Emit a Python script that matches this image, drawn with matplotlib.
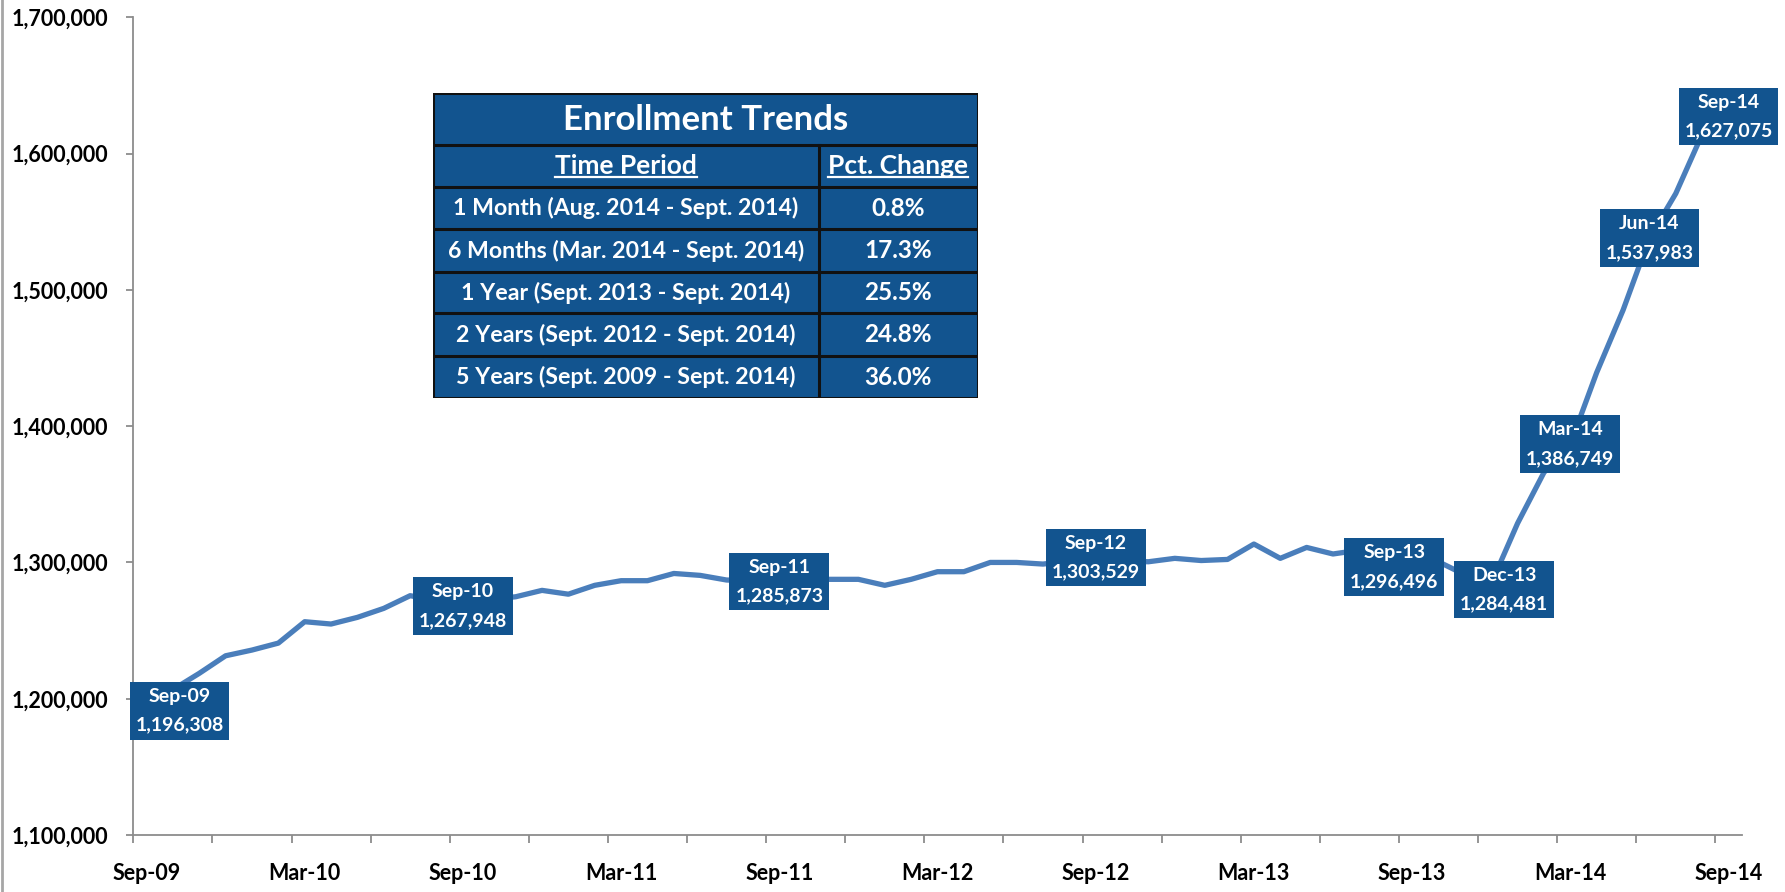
import numpy as np
import pandas as pd
import matplotlib
matplotlib.use('Agg')
import matplotlib.pyplot as plt
from matplotlib.lines import Line2D
from matplotlib.patches import Rectangle

plt.rcParams['font.family'] = ['Lato', 'DejaVu Sans']
plt.rcParams['font.weight'] = 'bold'

# monthly enrollment, Sep-09 .. Sep-14
months = list(pd.date_range('2009-09-01', '2014-09-01', freq='MS').strftime('%b-%y'))
enrollment = [
    1196308, 1206700, 1218600, 1231500, 1235700, 1240800, 1256500, 1254800,
    1259700, 1266300, 1275600, 1272000, 1267948, 1273000, 1274800, 1279500,
    1276700, 1283200, 1286600, 1286600, 1291900, 1290500, 1287100, 1286500,
    1285873, 1287600, 1287600, 1287600, 1283200, 1287600, 1293200, 1293200,
    1300000, 1300000, 1298800, 1301000, 1303529, 1301000, 1300500, 1303000,
    1301400, 1302200, 1313500, 1303000, 1311000, 1306200, 1309000, 1303000,
    1296496, 1300500, 1291000, 1284481, 1328700, 1366000, 1386749, 1439300,
    1485100, 1537983, 1570700, 1614163, 1627075,
]
labeled = ['Sep-09', 'Sep-10', 'Sep-11', 'Sep-12', 'Sep-13', 'Dec-13',
           'Mar-14', 'Jun-14', 'Sep-14']
# box nudges in pixels (only where Excel moved the label)
nudge = {'Sep-09': (33, -7), 'Sep-13': (-18, 0), 'Dec-13': (13, -6)}

periods = ['1 Month (Aug. 2014 - Sept. 2014)',
           '6 Months (Mar. 2014 - Sept. 2014)',
           '1 Year (Sept. 2013 - Sept. 2014)',
           '2 Years (Sept. 2012 - Sept. 2014)',
           '5 Years (Sept. 2009 - Sept. 2014)']
pct_change = ['0.8%', '17.3%', '25.5%', '24.8%', '36.0%']

navy = '#12548f'
line_blue = '#4a7ebb'
grey = '#8c8c8c'

W, H = 1785, 892
fig = plt.figure(figsize=(W / 100, H / 100), dpi=100)
ax = fig.add_axes([133.3 / W, 1 - 835 / H, (1741.7 - 133.3) / W, (835 - 17.3) / H])

x = np.arange(len(months))
ax.plot(x, enrollment, color=line_blue, lw=3.8, solid_joinstyle='round', zorder=2)

ax.set_xlim(-0.5, len(months) - 0.5)
ax.set_ylim(1100000, 1700000)
ax.set_yticks(np.arange(1100000, 1700001, 100000))
ax.set_yticklabels([f'{v:,}' for v in range(1100000, 1700001, 100000)])
ax.set_xticks(np.arange(-0.5, len(months), 3))
ax.set_xticklabels([])
ax.set_xticks(x[::6], minor=True)
ax.set_xticklabels(months[::6], minor=True)

for s in ['top', 'right']:
    ax.spines[s].set_visible(False)
for s in ['left', 'bottom']:
    ax.spines[s].set_color(grey)
    ax.spines[s].set_linewidth(1.3)
ax.tick_params(axis='y', length=5, width=1.3, color=grey, labelsize=15.5, pad=13)
ax.tick_params(axis='x', which='major', length=6, width=1.3, color=grey)
ax.tick_params(axis='x', which='minor', length=0, labelsize=15.5, pad=20)

# data label boxes
for name in labeled:
    i = months.index(name)
    dx, dy = nudge.get(name, (0, 0))
    ax.annotate(f'{name}\n{enrollment[i]:,}', (i, enrollment[i]),
                xytext=(dx, dy), textcoords='offset pixels',
                ha='center', va='center', color='white', fontsize=14,
                fontweight='bold', linespacing=1.85, zorder=4,
                bbox=dict(boxstyle='square,pad=0.3', fc=navy, ec='none'))

# Enrollment Trends table
tl, tt, tr, tb = 433, 93.3, 978, 398.3
tab = fig.add_axes([tl / W, 1 - tb / H, (tr - tl) / W, (tb - tt) / H])
tab.set_xlim(0, tr - tl)
tab.set_ylim(tb - tt, 0)
tab.axis('off')
rows = [0, 51.7, 94, 136, 178.4, 220, 262.7, 305]
col = 385.5
tw = tr - tl
tab.add_patch(Rectangle((0, 0), tw, rows[-1], fc=navy, ec='none'))
for r in rows:
    tab.plot([0, tw], [r, r], color='#111111', lw=2.2)
tab.plot([0, 0], [0, rows[-1]], color='#111111', lw=2.2)
tab.plot([tw, tw], [0, rows[-1]], color='#111111', lw=2.2)
tab.plot([col, col], [rows[1], rows[-1]], color='#111111', lw=2.2)

tab.text(tw / 2, (rows[0] + rows[1]) / 2 + 1, 'Enrollment Trends', color='white',
         fontsize=25, ha='center', va='center')
heads = [tab.text(col / 2, (rows[1] + rows[2]) / 2, 'Time Period', color='white',
                  fontsize=19, ha='center', va='center'),
         tab.text((col + tw) / 2, (rows[1] + rows[2]) / 2, 'Pct. Change', color='white',
                  fontsize=19, ha='center', va='center')]
for k in range(len(periods)):
    yc = (rows[k + 2] + rows[k + 3]) / 2
    tab.text(col / 2, yc, periods[k], color='white', fontsize=16.7,
             ha='center', va='center')
    tab.text((col + tw) / 2, yc, pct_change[k], color='white', fontsize=17.5,
             ha='center', va='center')

# underline the two headers
fig.canvas.draw()
inv = tab.transData.inverted()
for t in heads:
    bb = t.get_window_extent()
    (x0, y0), (x1, _) = inv.transform([(bb.x0, bb.y0), (bb.x1, bb.y1)])
    tab.plot([x0, x1], [y0 - 1, y0 - 1], color='white', lw=1.6)

# left border of the chart area
fig.add_artist(Line2D([0.0012, 0.0012], [0, 1], color='#a6a6a6', lw=2))

fig.savefig('out.png', dpi=100)
